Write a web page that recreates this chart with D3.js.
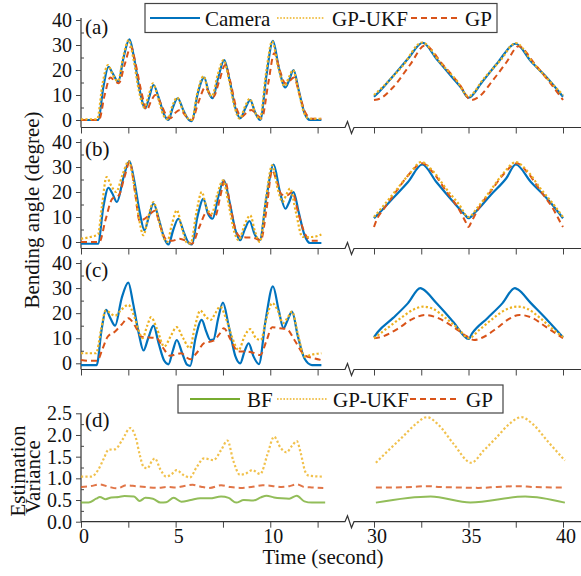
<!DOCTYPE html>
<meta charset="utf-8">
<style>
body { margin: 0; background: #fff; }
svg { font-family: "Liberation Serif", "Times New Roman", serif; }
.axis text { font-family: "Liberation Serif", "Times New Roman", serif; font-size: 20px; fill: #111; }
.axis line { stroke: #444; }
.lbl { font-size: 21px; fill: #111; }
</style>
<svg width="581" height="576"></svg>
<script src="https://d3js.org/d3.v7.min.js"></script>
<script>

// ---- data: [time (s), value] ----
var camA_L = [[0,0],[0.9,0],[1.2,14],[1.45,21.3],[1.65,19],[1.97,15.3],[2.25,25],[2.56,32.3],[2.8,25],[3.1,12],[3.39,4.7],[3.6,9],[3.83,14],[4.1,9],[4.4,2],[4.62,0],[4.85,5],[5.11,8.7],[5.4,4],[5.7,0],[5.86,-0.5],[6.15,10],[6.51,17],[6.75,11],[6.95,8.7],[7.25,17],[7.57,24],[7.85,16],[8.15,5],[8.41,0.7],[8.7,5],[8.94,8],[9.2,3],[9.47,0],[9.8,18],[10.14,31.7],[10.45,21],[10.79,13],[11.0,16],[11.23,20],[11.5,12],[11.8,3],[12.1,0],[12.7,0]];
var ukfA_L = [[0,0.3],[0.85,0.3],[1.15,15],[1.42,22],[1.65,18.5],[1.95,15.5],[2.25,26],[2.52,32],[2.78,24],[3.05,12],[3.35,5],[3.58,10],[3.8,14.7],[4.05,9.5],[4.35,2],[4.58,0.3],[4.82,5.5],[5.08,9],[5.38,4],[5.7,0.3],[5.85,0],[6.15,11],[6.48,17.5],[6.72,11.5],[6.92,9.5],[7.22,18],[7.53,24],[7.82,16],[8.12,5],[8.38,0.5],[8.67,5.5],[8.92,8.5],[9.2,3],[9.45,0.3],[9.78,19],[10.1,31.5],[10.42,21],[10.76,13.5],[10.98,17],[11.2,20],[11.48,12],[11.78,3],[12.05,0.5],[12.7,0.5]];
var gpA_L = [[0,0],[0.95,0],[1.25,10],[1.55,17],[1.8,15.5],[2.0,14.7],[2.3,22],[2.64,29.3],[2.9,22],[3.2,11],[3.47,4],[3.7,7.5],[3.93,10],[4.25,6],[4.5,2],[4.72,0.7],[5.0,3],[5.24,4],[5.55,1.5],[5.86,0],[6.2,7],[6.56,13],[6.8,10.5],[7.0,9.3],[7.3,15.5],[7.62,22],[7.9,15],[8.2,5],[8.5,1.3],[8.75,3],[9.0,4],[9.3,2],[9.55,0.7],[9.9,15],[10.21,26.7],[10.5,20],[10.79,14.7],[11.0,15.5],[11.25,17],[11.55,10],[11.85,3],[12.2,0.5],[12.7,0.5]];
var camA_R = [[30,9.3],[30.3,11.5],[31,17.5],[31.8,24.5],[32.58,30.9],[33.3,24.5],[34.2,16.5],[34.6,13],[35,8.9],[35.7,15],[36.5,22.5],[37.5,30.5],[38.3,23.5],[39.2,16.5],[40,9.3]];
var ukfA_R = [[30,10],[30.5,13.5],[31.5,21.5],[32.55,31],[33.5,23],[34.4,15.5],[35,9.5],[35.8,16.5],[36.7,24],[37.5,30.8],[38.4,23],[39.3,15.5],[40,10]];
var gpA_R = [[30,8],[30.3,8.5],[31,13],[31.9,22],[32.7,29.8],[33.6,22.5],[34.5,14.5],[35.15,8],[35.5,9],[36.3,16],[37.0,23],[37.65,29.5],[38.5,22.5],[39.3,15],[40,8]];

var camB_L = [[0,-0.7],[0.9,-0.7],[1.18,14],[1.45,21.7],[1.65,19.5],[1.9,16],[2.25,26],[2.56,32.4],[2.8,25],[3.1,12],[3.35,4.7],[3.58,10],[3.83,15.4],[4.1,9.5],[4.4,1.5],[4.62,-1],[4.88,5],[5.14,9.3],[5.45,3.5],[5.7,-0.5],[5.86,-1],[6.15,10],[6.47,17.3],[6.7,11.5],[6.95,9.3],[7.25,18],[7.55,24.7],[7.85,16],[8.15,5],[8.41,0.7],[8.65,5],[8.9,8.4],[9.18,3],[9.44,0.7],[9.8,18],[10.18,31],[10.48,21],[10.8,13.3],[11.0,16],[11.23,20],[11.5,12],[11.8,3],[12.1,-0.4],[12.7,-0.4]];
var ukfB_L = [[0,1.3],[0.5,2],[0.9,3],[1.1,14],[1.35,26],[1.6,22.5],[1.85,20],[2.2,27],[2.52,32.4],[2.78,24],[3.05,10],[3.3,2.7],[3.55,10],[3.83,16],[4.1,9],[4.35,2],[4.55,0],[4.8,7],[5.06,12.7],[5.35,5],[5.65,-0.7],[5.8,-0.5],[6.1,12],[6.38,20],[6.62,14],[6.9,11.3],[7.2,19],[7.5,24.7],[7.8,15],[8.1,4],[8.33,0.7],[8.65,7],[8.94,10.7],[9.2,4],[9.45,0],[9.78,18],[10.1,30.7],[10.4,21],[10.65,16],[10.85,19],[11.05,21.4],[11.35,12],[11.7,2],[12.2,2],[12.7,3]];
var gpB_L = [[0,0],[0.97,0],[1.3,9],[1.65,17.3],[2.0,18.7],[2.3,26],[2.57,32],[2.85,20],[3.1,8.4],[3.4,9.5],[3.7,11.5],[3.9,12.5],[4.2,6],[4.5,1],[4.8,0.5],[5.2,1.3],[5.55,0.5],[5.86,-0.7],[6.25,6],[6.65,12],[6.9,10.5],[7.1,10.5],[7.35,18],[7.6,24.7],[7.9,14],[8.2,4],[8.45,2],[8.8,1.8],[9.1,1.7],[9.5,0.7],[9.8,13],[10.1,28.7],[10.35,24],[10.6,19],[10.9,18.7],[11.15,20],[11.5,11],[11.85,3],[12.2,0.5],[12.7,0.5]];
var camB_R = [[30,9.5],[30.2,11],[31,17.5],[31.8,24],[32.55,31],[33.3,24],[34.2,16],[34.8,11],[35,9.5],[35.3,11.5],[36.2,19],[37,25.5],[37.5,31],[38.3,24],[39.2,17],[40,9.5]];
var ukfB_R = [[30,10],[30.5,14.5],[31.2,21],[31.9,27.5],[32.5,32],[33.1,28.5],[33.85,21],[34.5,15],[35,10],[35.5,14],[36.2,21],[36.9,28],[37.5,32],[38.1,28.5],[38.85,21],[39.5,15],[40,10]];
var gpB_R = [[30,6],[30.15,9],[30.5,13],[31.2,20.5],[31.9,27.5],[32.55,31.5],[33.1,28],[33.85,20],[34.5,13],[34.85,8],[35,6],[35.15,8],[35.5,13],[36.2,20.5],[36.9,27.5],[37.55,31.5],[38.1,28],[38.85,20],[39.5,13],[39.85,8],[40,6]];

var camC_L = [[0,-0.7],[0.83,-0.7],[1.08,13],[1.32,21.3],[1.55,18],[1.8,15],[2.15,26],[2.5,32.2],[2.75,24],[3.05,12],[3.3,5.1],[3.55,10],[3.83,15],[4.1,8],[4.4,1],[4.62,-0.4],[4.85,5],[5.06,9.3],[5.35,4],[5.6,-0.5],[5.77,-1],[6.05,10],[6.38,17.3],[6.6,13],[6.83,9.3],[7.0,9.5],[7.25,18],[7.5,24.2],[7.8,15],[8.15,3],[8.41,0],[8.65,5],[8.86,8],[9.1,3],[9.4,-0.3],[9.75,17],[10.14,30.7],[10.45,21],[10.7,14],[10.9,17],[11.15,20.6],[11.45,11],[11.8,2],[12.2,-0.7],[12.7,-0.7]];
var ukfC_L = [[0,4],[0.8,4],[1.05,13],[1.3,21],[1.8,19],[2.15,21.5],[2.5,23.3],[2.8,19],[3.05,13],[3.25,10],[3.5,15],[3.7,18.4],[4.0,14],[4.4,6.7],[4.75,11],[5.05,14.4],[5.4,10],[5.75,6],[6.0,14],[6.3,21],[6.6,18.5],[6.85,17.3],[7.1,20],[7.35,22.6],[7.7,17],[8.0,10],[8.33,5.3],[8.65,11],[8.94,13.6],[9.25,10],[9.5,9.3],[9.8,18],[10.1,24],[10.4,21],[10.67,16],[10.9,18],[11.15,20.6],[11.45,12],[11.8,2.7],[12.2,3.5],[12.7,4]];
var gpC_L = [[0,1.3],[0.5,1],[0.85,1],[1.15,6],[1.4,10.5],[1.8,12.7],[2.15,15.5],[2.5,18],[2.85,15],[3.2,10.6],[3.6,10.3],[4.0,10],[4.35,6],[4.7,3],[5.0,3.5],[5.3,4],[5.55,2.5],[5.77,1.6],[6.1,4],[6.5,8],[7.0,9],[7.3,11.5],[7.55,14],[7.9,9.5],[8.3,4.7],[8.75,4.7],[9.1,4.2],[9.47,3.3],[9.8,9],[10.1,14.4],[10.5,14],[10.88,13.6],[11.3,9],[11.8,3.3],[12.3,2],[12.7,1.3]];
var camC_R = [[30,10.4],[30.2,12.5],[31,18],[31.8,24],[32.45,30],[32.6,29.5],[33.3,24],[34.2,16.5],[35,9.7],[35.2,12],[36,18],[36.8,24],[37.45,30],[37.6,29.5],[38.3,24],[39.2,17],[40,10.4]];
var ukfC_R = [[30,10],[30.7,14],[31.5,18.5],[32.1,21.5],[32.6,22.6],[33.1,21.8],[33.8,18],[34.5,13.5],[35,10],[35.6,13.5],[36.4,18.5],[37.0,21.5],[37.6,22.6],[38.1,21.8],[38.8,18],[39.4,14],[40,10.5]];
var gpC_R = [[30,10],[30.5,10.8],[31.3,14],[32,17.5],[32.7,19.3],[33.4,18],[34.2,14.5],[34.9,10.8],[35.3,9.3],[35.8,10.5],[36.5,14],[37.1,17.5],[37.7,19.3],[38.4,18],[39.1,14.5],[39.6,12],[40,10]];

var ukfD_L = [[0,1.04],[0.55,1.04],[0.9,1.19],[1.2,1.45],[1.45,1.66],[1.8,1.67],[2.2,1.9],[2.6,2.16],[2.9,1.93],[3.1,1.55],[3.3,1.27],[3.5,1.23],[3.75,1.4],[3.9,1.46],[4.2,1.2],[4.5,1.04],[4.8,1.1],[5.05,1.19],[5.4,1.08],[5.75,1.02],[6.1,1.25],[6.5,1.46],[7.0,1.42],[7.4,1.65],[7.74,1.87],[8.05,1.4],[8.4,1.08],[8.75,1.12],[9.05,1.19],[9.47,1.1],[9.85,1.55],[10.2,1.96],[10.55,1.7],[10.85,1.6],[11.15,1.75],[11.4,1.86],[11.6,1.6],[11.85,1.15],[12.05,1.06],[12.8,1.04]];
var gpD_L = [[0,0.8],[0.5,0.82],[1.0,0.86],[1.5,0.8],[1.9,0.77],[2.4,0.84],[2.9,0.82],[3.4,0.8],[4.0,0.78],[4.6,0.8],[5.0,0.79],[5.4,0.82],[5.9,0.85],[6.4,0.8],[6.8,0.78],[7.4,0.84],[7.9,0.8],[8.4,0.78],[9.0,0.8],[9.6,0.84],[10.2,0.82],[10.6,0.8],[11.0,0.82],[11.4,0.86],[11.8,0.8],[12.2,0.79],[12.8,0.78]];
var bfD_L = [[0,0.44],[0.4,0.44],[0.8,0.53],[1.0,0.57],[1.3,0.52],[1.6,0.56],[2.0,0.57],[2.3,0.59],[2.8,0.58],[3.1,0.48],[3.4,0.55],[3.8,0.53],[4.2,0.44],[4.5,0.45],[4.9,0.55],[5.3,0.46],[5.8,0.5],[6.3,0.54],[6.8,0.54],[7.4,0.58],[7.8,0.55],[8.2,0.44],[8.6,0.5],[9.1,0.49],[9.5,0.56],[9.8,0.6],[10.2,0.56],[10.6,0.54],[11.0,0.53],[11.4,0.6],[11.8,0.47],[12.2,0.44],[12.9,0.44]];
var ukfD_R = [[30.1,1.36],[30.8,1.66],[31.5,1.95],[32.2,2.25],[32.8,2.41],[33.4,2.24],[34.2,1.8],[35.15,1.36],[35.8,1.64],[36.5,1.95],[37.2,2.27],[37.8,2.41],[38.4,2.25],[39.2,1.85],[40.1,1.41]];
var gpD_R = [[30.1,0.79],[31,0.79],[32,0.8],[32.8,0.82],[33.5,0.8],[34.5,0.79],[35.5,0.78],[36.5,0.8],[37.5,0.82],[38.5,0.8],[39.5,0.79],[40.1,0.79]];
var bfD_R = [[30.1,0.44],[33.0,0.58],[35.1,0.44],[38.0,0.58],[40.1,0.44]];

var ticksL = [0, 2.5, 5, 7.5, 10, 12.5],
    ticksR = [30, 32.5, 35, 37.5, 40];

var styles = {
  cam: {name: "Camera", color: "#0072BD", width: 2.2, dash: null},
  ukf: {name: "GP-UKF", color: "#EDB120", width: 2.2, dash: "2.2,2.2"},
  gp:  {name: "GP",     color: "#D95319", width: 2,   dash: "6,4"},
  bf:  {name: "BF",     color: "#77AC30", width: 2,   dash: null}
};

var svg = d3.select("svg");

var xL = d3.scaleLinear().domain([0, 12.5]).range([81, 317.6]),
    xR = d3.scaleLinear().domain([30, 40]).range([374, 563]);

var panels = [
  {label: "(a)", y: d3.scaleLinear().domain([0, 40]).range([120, 20]), base: 127.5, top: 18,
   major: [0,10,20,30,40], minor: [5,15,25,35], fmt: d3.format("d"), xlab: false,
   series: [["cam", camA_L, camA_R], ["gp", gpA_L, gpA_R], ["ukf", ukfA_L, ukfA_R]]},
  {label: "(b)", y: d3.scaleLinear().domain([0, 40]).range([242, 142]), base: 248.5, top: 139,
   major: [0,10,20,30,40], minor: [5,15,25,35], fmt: d3.format("d"), xlab: false,
   series: [["cam", camB_L, camB_R], ["gp", gpB_L, gpB_R], ["ukf", ukfB_L, ukfB_R]]},
  {label: "(c)", y: d3.scaleLinear().domain([0, 40]).range([363.3, 263]), base: 369.5, top: 260,
   major: [0,10,20,30,40], minor: [5,15,25,35], fmt: d3.format("d"), xlab: false,
   series: [["cam", camC_L, camC_R], ["gp", gpC_L, gpC_R], ["ukf", ukfC_L, ukfC_R]]},
  {label: "(d)", y: d3.scaleLinear().domain([0, 2.5]).range([521.7, 413.3]), base: 521.7, top: 413.3,
   major: [0,0.5,1,1.5,2,2.5], minor: [0.25,0.75,1.25,1.75,2.25], fmt: d3.format(".1f"), xlab: true,
   series: [["bf", bfD_L, bfD_R], ["gp", gpD_L, gpD_R], ["ukf", ukfD_L, ukfD_R]]}
];

function clean(g) {
  g.attr("font-family", null).attr("font-size", null);
  g.select(".domain").remove();
}

panels.forEach(function(p) {
  // bottom axis (broken)
  [[xL, ticksL], [xR, ticksR]].forEach(function(s) {
    svg.append("g").attr("class", "axis")
        .attr("transform", "translate(0," + p.base + ")")
        .call(d3.axisBottom(s[0]).tickValues(s[1]).tickSize(6).tickPadding(1)
          .tickFormat(function(d) { return p.xlab && d % 5 === 0 ? d : ""; }))
        .call(clean)
      .selectAll("text").attr("dx", 2.5);
  });
  svg.append("path")
      .attr("d", "M81," + p.base + "H345L347.5," + (p.base - 6) + "L351.5," + (p.base + 6) + "L354," + p.base + "H581")
      .attr("fill", "none").attr("stroke", "#333").attr("stroke-width", 1.2);

  // left axis
  svg.append("line").attr("x1", 81).attr("x2", 81).attr("y1", p.top).attr("y2", p.base)
      .attr("stroke", "#333").attr("stroke-width", 1.2);
  svg.append("g").attr("class", "axis").attr("transform", "translate(81,0)")
      .call(d3.axisLeft(p.y).tickValues(p.major).tickSize(5).tickPadding(4).tickFormat(p.fmt))
      .call(clean);
  svg.append("g").attr("class", "axis").attr("transform", "translate(81,0)")
      .call(d3.axisRight(p.y).tickValues(p.minor).tickSize(3).tickFormat(""))
      .call(clean);

  svg.append("text").attr("class", "lbl").attr("x", 85).attr("y", p.y.range()[1] + 14).text(p.label);

  // lines
  p.series.forEach(function(s) {
    var st = styles[s[0]];
    [[xL, s[1]], [xR, s[2]]].forEach(function(part) {
      var line = d3.line()
          .x(function(d) { return part[0](d[0]); })
          .y(function(d) { return p.y(d[1]); })
          .curve(d3.curveMonotoneX);
      svg.append("path").datum(part[1])
          .attr("d", line)
          .attr("fill", "none")
          .attr("stroke", st.color)
          .attr("stroke-width", st.width)
          .attr("stroke-dasharray", st.dash)
          .attr("stroke-opacity", p.label === "(d)" ? 0.8 : 1);
    });
  });
});

// legends
function legend(box, items) {
  svg.append("rect").attr("x", box[0]).attr("y", box[1]).attr("width", box[2]).attr("height", box[3])
      .attr("fill", "#fff").attr("stroke", "#444").attr("stroke-width", 1.2);
  var cy = box[1] + box[3] / 2;
  items.forEach(function(it) {
    var st = styles[it[0]];
    var dotted = it[0] === "ukf";
    svg.append("line").attr("x1", it[1]).attr("x2", it[2]).attr("y1", cy).attr("y2", cy)
        .attr("stroke", st.color)
        .attr("stroke-width", dotted ? 1.6 : 2)
        .attr("stroke-dasharray", dotted ? "1.6,1.6" : st.dash);
    svg.append("text").attr("class", "lbl").attr("x", it[3]).attr("y", cy + 7.5).text(st.name);
  });
}
legend([145, 3.5, 352, 29], [["cam", 150, 200, 205], ["ukf", 277, 325, 332], ["gp", 411, 457, 465]]);
legend([178, 385, 325, 28], [["bf", 190, 240, 247], ["ukf", 277, 327, 333], ["gp", 410, 460, 466]]);

// axis titles
svg.append("text").attr("class", "lbl").attr("text-anchor", "middle")
    .attr("transform", "translate(39,210) rotate(-90)").text("Bending angle (degree)");
svg.append("text").attr("class", "lbl").attr("text-anchor", "middle")
    .attr("transform", "translate(25,471) rotate(-90)").text("Estimation");
svg.append("text").attr("class", "lbl").attr("text-anchor", "middle")
    .attr("transform", "translate(40,477) rotate(-90)").text("Variance");
svg.append("text").attr("class", "lbl").attr("text-anchor", "middle")
    .attr("x", 323).attr("y", 564).text("Time (second)");

</script>
